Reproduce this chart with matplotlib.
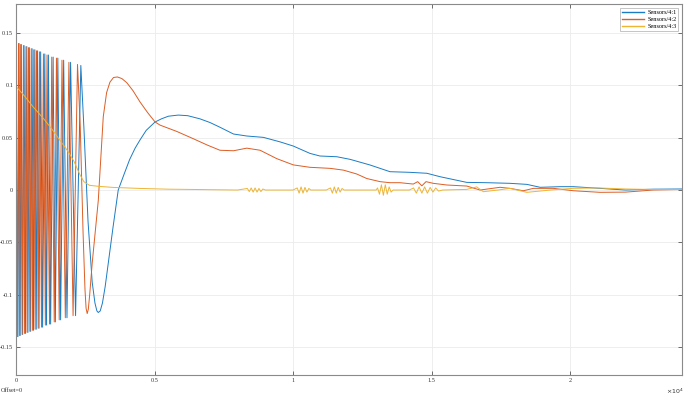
import matplotlib
matplotlib.use("Agg")
import matplotlib.pyplot as plt

# x axis values are in units of 1e4 (as shown by the x10^4 label)
# --- Sensors/4:1 (blue) ---
blue_x = [0.000, 0.007, 0.011, 0.015, 0.019, 0.024, 0.029, 0.034, 0.039, 0.043,
          0.048, 0.053, 0.058, 0.063, 0.068, 0.073, 0.078, 0.083, 0.089, 0.096,
          0.104, 0.110, 0.117, 0.125, 0.134, 0.142, 0.151, 0.161, 0.172, 0.184,
          0.197, 0.215, 0.234,
          0.245, 0.260, 0.275, 0.285, 0.292, 0.297, 0.304, 0.312, 0.322, 0.335,
          0.350, 0.369, 0.390, 0.410, 0.430, 0.448, 0.470, 0.502, 0.525, 0.550,
          0.586, 0.620, 0.664, 0.700, 0.736, 0.785, 0.833, 0.893, 0.953, 1.001,
          1.061, 1.097, 1.158, 1.206, 1.278, 1.350, 1.422, 1.483, 1.531, 1.627,
          1.699, 1.783, 1.844, 1.892, 1.964, 2.012, 2.108, 2.200, 2.300, 2.404]
blue_y = [0.141, -0.140, 0.140, -0.139, 0.139, -0.138, 0.138, -0.137, 0.137, -0.136,
          0.136, -0.135, 0.135, -0.134, 0.134, -0.133, 0.133, -0.132, 0.132, -0.131,
          0.130, -0.129, 0.129, -0.128, 0.127, -0.126, 0.126, -0.124, 0.124, -0.122,
          0.122, -0.120, 0.119,
          0.060, -0.030, -0.088, -0.108, -0.1155, -0.117, -0.1155, -0.108, -0.092, -0.066,
          -0.036, 0.000, 0.015, 0.029, 0.040, 0.048, 0.057, 0.065, 0.068, 0.0705,
          0.0716, 0.071, 0.068, 0.0645, 0.060, 0.0535, 0.0516, 0.0503, 0.046, 0.042,
          0.035, 0.0325, 0.0318, 0.0293, 0.0239, 0.0175, 0.0169, 0.016, 0.0127, 0.0073,
          0.007, 0.0064, 0.0054, 0.0026, 0.0032, 0.0032, 0.0016, 0.000, 0.0008, 0.001]

# --- Sensors/4:2 (orange) ---
orange_x = [0.000, 0.005, 0.009, 0.013, 0.017, 0.022, 0.027, 0.031, 0.036, 0.040,
            0.045, 0.050, 0.055, 0.060, 0.064, 0.069, 0.074, 0.080, 0.085, 0.092,
            0.099, 0.106, 0.112, 0.121, 0.129, 0.138, 0.146, 0.156, 0.166, 0.178,
            0.191, 0.206, 0.222,
            0.232, 0.242, 0.249, 0.253, 0.257, 0.261, 0.266, 0.275, 0.297, 0.315,
            0.327, 0.339, 0.352, 0.366, 0.382, 0.400, 0.422, 0.448, 0.475, 0.502,
            0.520, 0.580, 0.640, 0.690, 0.736, 0.785, 0.833, 0.881, 0.941, 1.001,
            1.061, 1.134, 1.182, 1.230, 1.266, 1.314, 1.350, 1.386, 1.434, 1.450,
            1.465, 1.480, 1.506, 1.555, 1.627, 1.675, 1.747, 1.783, 1.831, 1.868,
            1.940, 2.012, 2.108, 2.200, 2.300, 2.404]
orange_y = [0.141, -0.140, 0.140, -0.139, 0.139, -0.138, 0.138, -0.137, 0.137, -0.136,
            0.136, -0.135, 0.135, -0.134, 0.134, -0.133, 0.133, -0.132, 0.132, -0.131,
            0.130, -0.129, 0.129, -0.128, 0.127, -0.126, 0.126, -0.124, 0.124, -0.122,
            0.122, -0.120, 0.120,
            0.060, -0.040, -0.095, -0.113, -0.118, -0.114, -0.100, -0.070, -0.010, 0.070,
            0.093, 0.103, 0.1075, 0.108, 0.1065, 0.1025, 0.095, 0.084, 0.074, 0.065,
            0.062, 0.056, 0.049, 0.043, 0.038, 0.0375, 0.040, 0.038, 0.030, 0.024,
            0.0217, 0.0207, 0.019, 0.0153, 0.011, 0.008, 0.007, 0.007, 0.0057, 0.008,
            0.004, 0.008, 0.0064, 0.0048, 0.0038, 0.000, 0.0026, 0.0016, -0.0007, 0.0016,
            0.0016, -0.0007, -0.0022, -0.002, 0.000, 0.0005]

# --- Sensors/4:3 (yellow) ---
yellow_x = [0.000, 0.030, 0.060, 0.100, 0.130, 0.160, 0.190, 0.210, 0.230, 0.245,
            0.265, 0.300, 0.350, 0.450, 0.550, 0.650, 0.800,
            0.835, 0.842, 0.849, 0.856, 0.863, 0.870, 0.877, 0.884, 0.891, 0.900, 1.000,
            1.015, 1.022, 1.029, 1.036, 1.043, 1.050, 1.057, 1.064, 1.120,
            1.135, 1.142, 1.149, 1.156, 1.163, 1.170, 1.177, 1.184, 1.300,
            1.305, 1.312, 1.319, 1.326, 1.333, 1.340, 1.347, 1.354, 1.361, 1.420,
            1.435, 1.445, 1.455, 1.465, 1.475, 1.485, 1.495, 1.505, 1.515, 1.525, 1.540,
            1.627, 1.663, 1.687, 1.740, 1.783, 1.844, 1.930, 2.010, 2.100,
            2.200, 2.300, 2.404]
yellow_y = [0.099, 0.090, 0.080, 0.068, 0.058, 0.047, 0.036, 0.027, 0.015, 0.008,
            0.0045, 0.0035, 0.0025, 0.0015, 0.0008, 0.0005, 0.000,
            0.0015, -0.0015, 0.002, -0.002, 0.002, -0.002, 0.0015, -0.0015, 0.001, 0.000, 0.000,
            0.002, -0.003, 0.003, -0.003, 0.0025, -0.002, 0.0015, 0.000, 0.000,
            0.002, -0.003, 0.003, -0.003, 0.0025, -0.002, 0.0015, 0.000, 0.000,
            0.002, -0.004, 0.005, -0.005, 0.005, -0.004, 0.003, -0.002, 0.000, 0.000,
            0.002, -0.003, 0.003, -0.003, 0.003, -0.003, 0.0025, -0.002, 0.002, -0.001, 0.000,
            0.0006, 0.003, -0.0016, 0.000, 0.0016, -0.0022, 0.000, 0.0016, 0.002,
            0.001, 0.0005, 0.0005]

labels = ["Sensors/4:1", "Sensors/4:2", "Sensors/4:3"]
colors = ["#1a7cc4", "#dd5d24", "#eeb532"]

x_ticks = [0, 0.5, 1, 1.5, 2]
x_ticklabels = ["0", "0.5", "1", "1.5", "2"]
y_ticks = [-0.15, -0.1, -0.05, 0, 0.05, 0.1, 0.15]
y_ticklabels = ["-0.15", "-0.1", "-0.05", "0", "0.05", "0.1", "0.15"]

plt.rcParams['font.family'] = ['Liberation Serif', 'DejaVu Serif']

fig = plt.figure(figsize=(6.9, 3.97), dpi=100)
ax = fig.add_axes([16 / 690, 22 / 397, 666 / 690, 371 / 397])

ax.plot(blue_x, blue_y, color=colors[0], lw=0.7, label=labels[0])
ax.plot(orange_x, orange_y, color=colors[1], lw=0.7, label=labels[1])
ax.plot(yellow_x, yellow_y, color=colors[2], lw=0.7, label=labels[2])

ax.set_xlim(0, 2.404)
ax.set_ylim(-0.1767, 0.1777)
ax.set_xticks(x_ticks)
ax.set_xticklabels(x_ticklabels)
ax.set_yticks(y_ticks)
ax.set_yticklabels(y_ticklabels)
ax.tick_params(direction='in', length=3, width=0.6, labelsize=4.5, pad=2,
               top=True, right=True, color='#555555', labelcolor='#333333')
ax.grid(True, color='#ebebeb', lw=0.6)
ax.set_axisbelow(True)
for s in ax.spines.values():
    s.set_color('#8a8a8a')
    s.set_linewidth(0.8)

leg = ax.legend(loc='upper right', fontsize=4.5, handlelength=3.6,
                borderaxespad=0.6, frameon=True, fancybox=False,
                labelspacing=0.25, borderpad=0.3, handletextpad=0.5)
leg.get_frame().set_edgecolor('#999999')
leg.get_frame().set_linewidth(0.5)
for line in leg.get_lines():
    line.set_linewidth(1.0)

fig.text(675 / 690, 1 - 391 / 397, r"$\times10^{4}$", fontsize=4.5,
         ha='center', va='center', color='#333333')
fig.text(1 / 690, 1 - 391 / 397, "Offset=0", fontsize=4.5,
         ha='left', va='center', color='#333333')

fig.savefig("out.png", dpi=100)
